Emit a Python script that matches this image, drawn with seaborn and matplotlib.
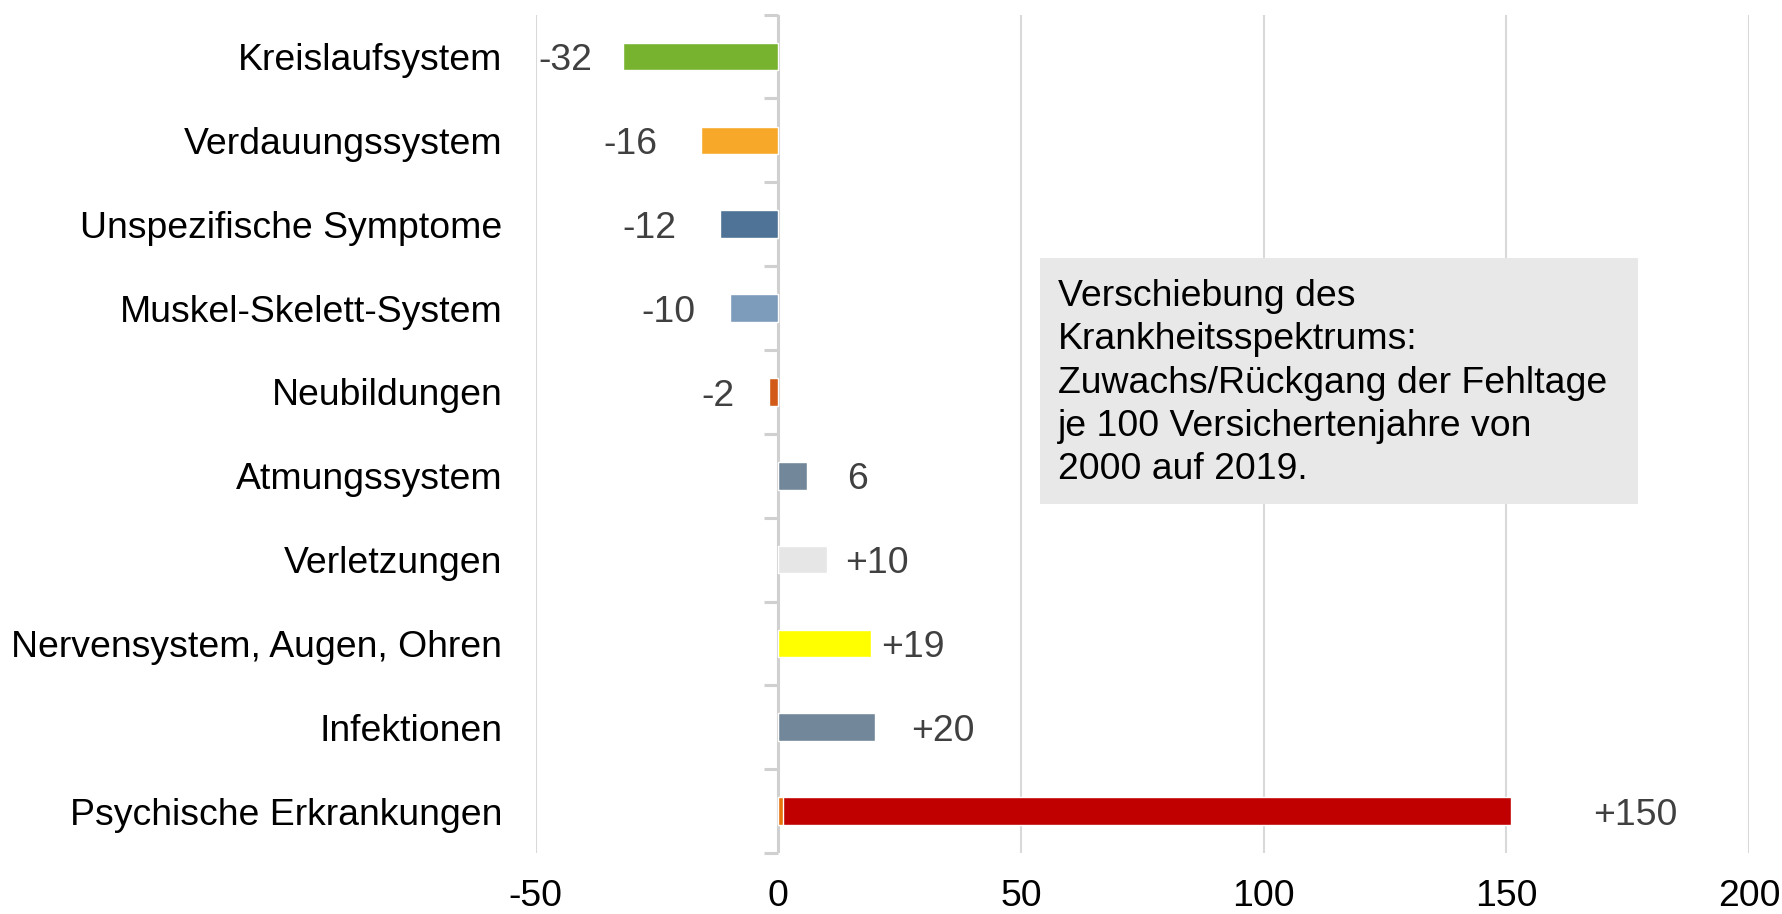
import pandas as pd
import matplotlib.pyplot as plt
import seaborn as sns
from matplotlib.patches import Rectangle

# ── Data ──────────────────────────────────────────────────────────────────────
categories = [
    'Kreislaufsystem', 'Verdauungssystem', 'Unspezifische Symptome',
    'Muskel-Skelett-System', 'Neubildungen', 'Atmungssystem',
    'Verletzungen', 'Nervensystem, Augen, Ohren', 'Infektionen',
    'Psychische Erkrankungen',
]
values = [-32, -16, -12, -10, -2, 6, 10, 19, 20, 150]
value_labels = ['-32', '-16', '-12', '-10', '-2', '6', '+10', '+19', '+20', '+150']
# small extra segment at the base of the last bar
psych_base = 1
colors = ['#77B32F', '#F7A828', '#4E7396', '#7D9BBA', '#D25B1A',
          '#72879A', '#E6E6E6', '#FFFF00', '#72879A', '#C00000']
base_color = '#E8720C'
label_offset = [-11.8, -14.5, -14.5, -12.7, -10.4, 10.4, 10.4, 8.7, 14.0, 25.6]
x_ticks = [-50, 0, 50, 100, 150, 200]

note = ('Verschiebung des\nKrankheitsspektrums:\nZuwachs/Rückgang der Fehltage\n'
        'je 100 Versichertenjahre von\n2000 auf 2019.')

df = pd.DataFrame({'category': categories, 'value': values})
df.loc[df.index[-1], 'value'] = values[-1] + psych_base

# ── Plot ──────────────────────────────────────────────────────────────────────
sns.set_style('white')
plt.rcParams['font.family'] = ['Liberation Sans', 'DejaVu Sans']
FS = 26.9

fig = plt.figure(figsize=(17.83, 9.14), dpi=100)
ax = fig.add_axes([0.3004, 0.0667, 0.6806, 0.9173])

sns.barplot(data=df, y='category', x='value', hue='category', palette=colors,
            order=categories, width=0.33, legend=False, ax=ax, zorder=3,
            saturation=1)
base = pd.DataFrame({'category': [categories[-1]], 'value': [psych_base]})
sns.barplot(data=base, y='category', x='value', color=base_color,
            order=categories, width=0.33, ax=ax, zorder=4, saturation=1)

ax.set_xlim(-50, 200)
ax.set_ylim(len(categories) - 0.5, -0.5)
ax.set_xticks(x_ticks)
ax.set_xticklabels([str(t) for t in x_ticks])
for t in x_ticks:
    if t != 0:
        ax.axvline(t, color='#D9D9D9', lw=1.5, zorder=1)
ax.axvline(0, color='#D0D0D0', lw=2.2, zorder=2)
# category tick marks on the zero line
ax.hlines([i - 0.5 for i in range(len(categories) + 1)], -2.9, 0,
          color='#D0D0D0', lw=2.2, zorder=2, clip_on=False)

for s in ax.spines.values():
    s.set_visible(False)
ax.tick_params(axis='y', length=0, pad=24, labelsize=FS, labelcolor='#000000')
ax.tick_params(axis='x', length=0, pad=19, labelsize=FS, labelcolor='#000000')
ax.set_xlabel('')
ax.set_ylabel('')

for i, (v, lab, off) in enumerate(zip(values, value_labels, label_offset)):
    x = v + (psych_base if i == len(values) - 1 else 0)
    ax.text(x + off, i + 0.05, lab, ha='center', va='center',
            fontsize=FS, color='#404040', zorder=5)

# note box
fig.patches.append(Rectangle((0.5833, 0.4489), 0.3351, 0.2688,
                             transform=fig.transFigure, facecolor='#E8E8E8',
                             edgecolor='none', zorder=5))
fig.text(0.5934, 0.695, note, ha='left', va='top', fontsize=FS,
         linespacing=1.31, color='#000000', zorder=6)

plt.savefig('out.png', dpi=100)
plt.close()
